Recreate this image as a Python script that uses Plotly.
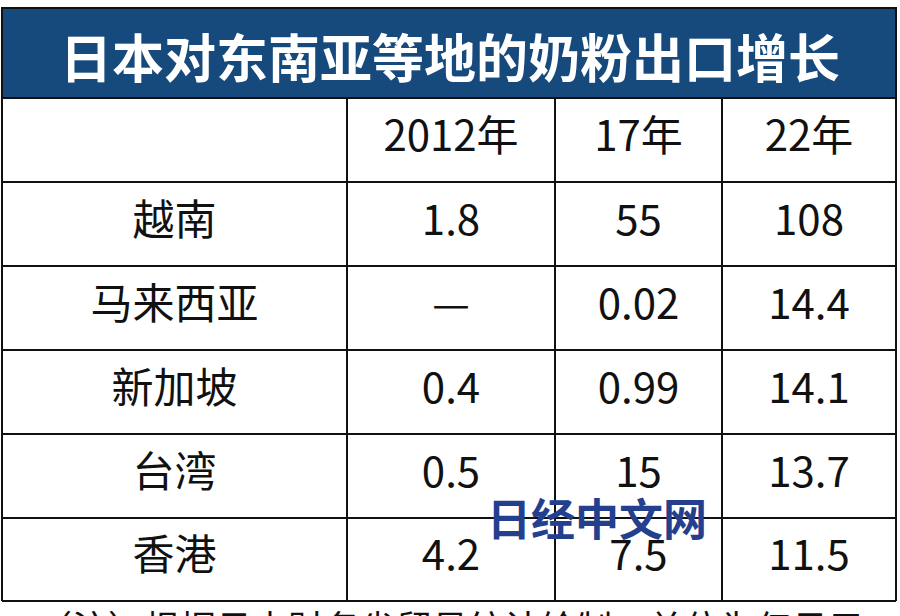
import plotly.graph_objects as go

title = "日本对东南亚等地的奶粉出口增长"
years = ["2012年", "17年", "22年"]
regions = ["越南", "马来西亚", "新加坡", "台湾", "香港"]
v2012 = ["1.8", "—", "0.4", "0.5", "4.2"]
v2017 = ["55", "0.02", "0.99", "15", "7.5"]
v2022 = ["108", "14.4", "14.1", "13.7", "11.5"]
note = "（注）根据日本财务省贸易统计绘制，单位为亿日元"
watermark = "日经中文网"

W, H = 900, 616
font = "Noto Sans CJK SC"
col_edges = [2, 347, 555, 722, 896]
row_edges = [98, 182, 266, 350, 434, 518, 601]
title_top = 8

cx = [(col_edges[i] + col_edges[i + 1]) / 2 for i in range(4)]
cy = [(row_edges[i] + row_edges[i + 1]) / 2 for i in range(6)]

xs, ys, ts = [], [], []
header = [""] + years
for j in range(4):
    xs.append(cx[j]); ys.append(cy[0]); ts.append(header[j])
for i in range(len(regions)):
    for j, col in enumerate([regions, v2012, v2017, v2022]):
        xs.append(cx[j]); ys.append(cy[i + 1]); ts.append(col[i])

fig = go.Figure(go.Scatter(x=xs, y=ys, text=ts, mode="text", hoverinfo="skip",
                           textfont=dict(family=font, size=42, color="#111")))
lw = 2
fig.add_shape(type="rect", x0=col_edges[0], x1=col_edges[-1], y0=title_top, y1=row_edges[0],
              fillcolor="#16497c", line=dict(color="#111", width=lw), layer="below")
for y in row_edges:
    fig.add_shape(type="line", x0=col_edges[0], x1=col_edges[-1], y0=y, y1=y,
                  line=dict(color="#111", width=lw))
for x in col_edges:
    fig.add_shape(type="line", x0=x, x1=x, y0=row_edges[0], y1=row_edges[-1],
                  line=dict(color="#111", width=lw))
fig.add_annotation(text=title, x=W / 2, y=(title_top + row_edges[0]) / 2 + 2, yanchor="middle",
                   showarrow=False, font=dict(family=font, size=52, color="white", weight="bold"))
fig.add_annotation(text=watermark, x=597, y=517, yanchor="middle", showarrow=False,
                   font=dict(family=font, size=44, color="#253f8f", weight="bold"))
fig.add_annotation(text=note, x=450, y=598, yanchor="top", showarrow=False,
                   font=dict(family=font, size=36, color="#111"))
fig.update_xaxes(range=[0, W], visible=False, fixedrange=True)
fig.update_yaxes(range=[H, 0], visible=False, fixedrange=True)
fig.update_layout(width=W, height=H, margin=dict(l=0, r=0, t=0, b=0),
                  paper_bgcolor="white", plot_bgcolor="white", showlegend=False)
fig.write_html("out.html", config={"displayModeBar": False},
               post_script="document.body.style.margin='0';document.body.style.overflow='hidden';")
